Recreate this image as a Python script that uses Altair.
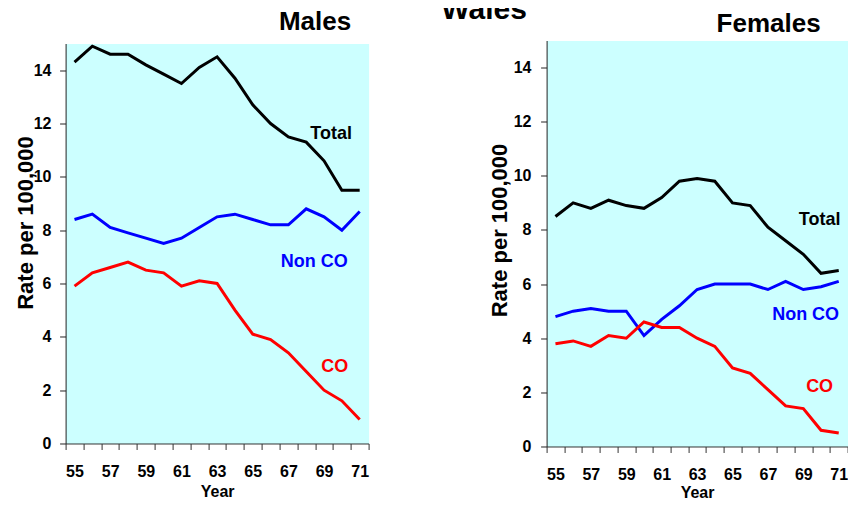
import altair as alt
import pandas as pd

FONT = "Liberation Sans"

years = list(range(55, 72))
series = ["Total", "Non CO", "CO"]
colors = ["#000000", "#0000FF", "#FF0000"]

males_total = [14.3, 14.9, 14.6, 14.6, 14.2, 13.85, 13.5, 14.1, 14.5, 13.7, 12.7, 12.0, 11.5, 11.3, 10.6, 9.5, 9.5]
males_nonco = [8.4, 8.6, 8.1, 7.9, 7.7, 7.5, 7.7, 8.1, 8.5, 8.6, 8.4, 8.2, 8.2, 8.8, 8.5, 8.0, 8.7]
males_co = [5.9, 6.4, 6.6, 6.8, 6.5, 6.4, 5.9, 6.1, 6.0, 5.0, 4.1, 3.9, 3.4, 2.7, 2.0, 1.6, 0.9]

females_total = [8.5, 9.0, 8.8, 9.1, 8.9, 8.8, 9.2, 9.8, 9.9, 9.8, 9.0, 8.9, 8.1, 7.6, 7.1, 6.4, 6.5]
females_nonco = [4.8, 5.0, 5.1, 5.0, 5.0, 4.1, 4.7, 5.2, 5.8, 6.0, 6.0, 6.0, 5.8, 6.1, 5.8, 5.9, 6.1]
females_co = [3.8, 3.9, 3.7, 4.1, 4.0, 4.6, 4.4, 4.4, 4.0, 3.7, 2.9, 2.7, 2.1, 1.5, 1.4, 0.6, 0.5]

# series label positions (year, rate)
males_label_x = [69.4, 68.45, 69.6]
males_label_y = [11.6, 6.8, 2.85]
females_label_x = [69.92, 69.13, 69.92]
females_label_y = [8.35, 4.87, 2.18]

y_ticks = [0, 2, 4, 6, 8, 10, 12, 14]
x_ticks = [y - 0.5 for y in years] + [years[-1] + 0.5]

main_title = "Wales"
panel_titles = ["Males", "Females"]


def long_df(total, nonco, co):
    rows = []
    for name, vals in zip(series, [total, nonco, co]):
        for yr, v in zip(years, vals):
            rows.append({"year": yr, "rate": v, "series": name})
    return pd.DataFrame(rows)


def label_df(xs, ys):
    return pd.DataFrame({"series": series, "year": xs, "rate": ys})


color = alt.Color("series:N", scale=alt.Scale(domain=series, range=colors), legend=None)


def panel(df, ldf, title, title_dx, title_offset, width, height, tick_pad, ytitle_x, ytitle_y, xtitle_y):
    band = width / 17.0
    x = alt.X(
        "year:Q",
        scale=alt.Scale(domain=[54.5, 71.5], nice=False, zero=False),
        axis=alt.Axis(
            values=x_ticks,
            labelExpr="(datum.value - 0.5) % 2 == 1 ? '' + (datum.value - 0.5) : ''",
            labelOffset=-band / 2,
            labelFlush=False,
            labelOverlap=False,
            tickSize=6,
            labelPadding=14,
            labelFont=FONT,
            labelFontSize=16,
            labelFontWeight="bold",
            labelColor="#000000",
            grid=False,
            domainColor="#333333",
            tickColor="#333333",
            title="Year",
            titleFont=FONT,
            titleFontSize=16,
            titleFontWeight="bold",
            titleColor="#000000",
            titleBaseline="top",
            titleY=xtitle_y,
        ),
    )
    y = alt.Y(
        "rate:Q",
        scale=alt.Scale(domain=[0, 15], nice=False),
        axis=alt.Axis(
            values=y_ticks,
            tickSize=6,
            labelPadding=tick_pad,
            labelFont=FONT,
            labelFontSize=16,
            labelFontWeight="bold",
            labelColor="#000000",
            grid=False,
            domainColor="#222222",
            tickColor="#222222",
            title="Rate per 100,000",
            titleFont=FONT,
            titleFontSize=22,
            titleFontWeight="bold",
            titleColor="#000000",
            titleAngle=270,
            titleBaseline="alphabetic",
            titleAlign="center",
            titleX=ytitle_x,
            titleY=ytitle_y,
        ),
    )
    lines = alt.Chart(df).mark_line(strokeWidth=3).encode(x=x, y=y, color=color, detail="series:N")
    labels = alt.Chart(ldf).mark_text(
        font=FONT, fontSize=18, fontWeight="bold", align="center", baseline="middle"
    ).encode(x=x, y=y, text="series:N", color=color)
    return alt.layer(lines, labels).properties(
        width=width,
        height=height,
        title=alt.TitleParams(
            title,
            anchor="end",
            dx=title_dx,
            offset=title_offset,
            frame="group",
            baseline="alphabetic",
            font=FONT,
            fontSize=26,
            fontWeight="bold",
            color="#000000",
        ),
    )


left = panel(long_df(males_total, males_nonco, males_co), label_df(males_label_x, males_label_y),
             panel_titles[0], -17.5, -16, 303, 400, 8.6, -33.5, 179, 40)
right = panel(long_df(females_total, females_nonco, females_co), label_df(females_label_x, females_label_y),
              panel_titles[1], -27, -17, 301, 406, 9.6, -40, 189.5, 38)

chart = alt.hconcat(
    left, right, spacing=178, bounds="flush", center=True,
    title=alt.TitleParams(main_title, anchor="middle", dx=53, offset=-40.2, baseline="alphabetic",
                          font=FONT, fontSize=30, fontWeight="bold", color="#000000"),
).properties(
    padding={"left": 5.6, "top": -13.5, "right": -1, "bottom": -1}
).configure_view(fill="#CCFFFF", stroke="transparent")

chart.save("out.html", embed_options={"renderer": "svg", "actions": False})
